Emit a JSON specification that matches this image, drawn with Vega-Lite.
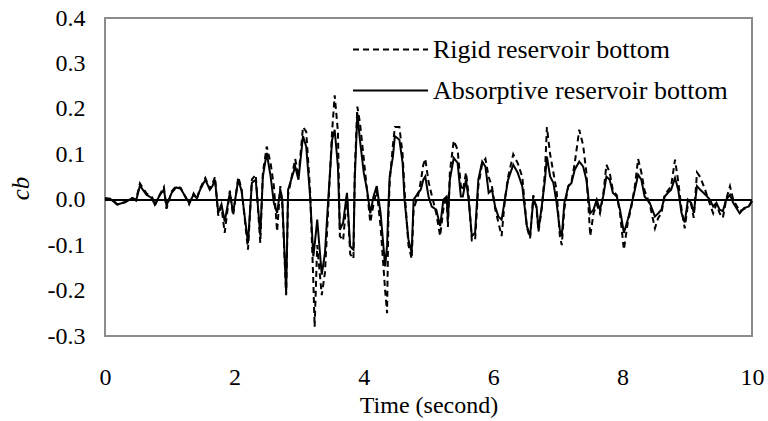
{
  "$schema": "https://vega.github.io/schema/vega-lite/v6.json",
  "width": 647,
  "height": 318,
  "autosize": {"type": "none"},
  "padding": {"left": 105, "top": 18, "right": 16, "bottom": 85},
  "background": "white",
  "config": {
    "view": {"stroke": "#8c8c8c", "strokeWidth": 2},
    "font": "Liberation Serif",
    "style": {"guide-label": {"font": "Liberation Serif", "fontSize": 24, "fill": "black"}, "guide-title": {"font": "Liberation Serif", "fontSize": 24, "fill": "black"}},
    "axis": {"labelFont": "Liberation Serif", "labelFontSize": 24, "labelColor": "black", "titleFont": "Liberation Serif", "titleFontSize": 24, "titleColor": "black", "titleFontWeight": "normal", "grid": false, "domain": false, "ticks": false, "labelFlush": false}
  },
  "data": {"values": [
    {"t":0.00,"a":0.003,"r":0.003},{"t":0.10,"a":0.000,"r":0.002},{"t":0.19,"a":-0.011,"r":-0.010},{"t":0.31,"a":-0.005,"r":-0.006},
    {"t":0.42,"a":0.003,"r":0.004},{"t":0.48,"a":-0.002,"r":0.000},{"t":0.54,"a":0.031,"r":0.036},{"t":0.64,"a":0.011,"r":0.014},
    {"t":0.73,"a":0.003,"r":0.005},{"t":0.77,"a":-0.011,"r":-0.013},{"t":0.85,"a":0.011,"r":0.012},{"t":0.91,"a":0.022,"r":0.028},
    {"t":0.95,"a":-0.013,"r":-0.020},{"t":1.03,"a":0.015,"r":0.018},{"t":1.10,"a":0.027,"r":0.030},{"t":1.17,"a":0.024,"r":0.026},
    {"t":1.30,"a":-0.007,"r":-0.010},{"t":1.37,"a":0.011,"r":0.014},{"t":1.42,"a":0.003,"r":0.002},{"t":1.47,"a":0.022,"r":0.025},
    {"t":1.55,"a":0.044,"r":0.048},{"t":1.62,"a":0.022,"r":0.024},{"t":1.66,"a":0.030,"r":0.035},{"t":1.70,"a":0.044,"r":0.050},
    {"t":1.75,"a":-0.029,"r":-0.035},{"t":1.80,"a":-0.010,"r":-0.015},{"t":1.85,"a":-0.048,"r":-0.073},{"t":1.93,"a":0.015,"r":0.020},
    {"t":1.98,"a":-0.029,"r":-0.035},{"t":2.06,"a":0.044,"r":0.050},{"t":2.11,"a":0.020,"r":0.025},{"t":2.21,"a":-0.095,"r":-0.110},
    {"t":2.27,"a":0.037,"r":0.045},{"t":2.33,"a":0.044,"r":0.055},{"t":2.40,"a":-0.077,"r":-0.095},{"t":2.44,"a":0.051,"r":0.060},
    {"t":2.50,"a":0.103,"r":0.117},{"t":2.56,"a":0.051,"r":0.080},{"t":2.61,"a":-0.007,"r":0.030},{"t":2.66,"a":-0.029,"r":-0.070},
    {"t":2.71,"a":0.022,"r":0.030},{"t":2.74,"a":0.000,"r":-0.010},{"t":2.80,"a":-0.205,"r":-0.210},{"t":2.83,"a":0.022,"r":0.010},
    {"t":2.94,"a":0.073,"r":0.090},{"t":2.99,"a":0.044,"r":0.050},{"t":3.06,"a":0.140,"r":0.160},{"t":3.11,"a":0.117,"r":0.150},
    {"t":3.17,"a":0.007,"r":0.020},{"t":3.22,"a":-0.125,"r":-0.180},{"t":3.24,"a":-0.100,"r":-0.280},{"t":3.28,"a":-0.044,"r":-0.100},
    {"t":3.35,"a":-0.165,"r":-0.210},{"t":3.40,"a":-0.117,"r":-0.160},{"t":3.45,"a":0.000,"r":-0.020},{"t":3.51,"a":0.132,"r":0.150},
    {"t":3.55,"a":0.154,"r":0.230},{"t":3.60,"a":0.073,"r":0.150},{"t":3.63,"a":-0.066,"r":-0.080},{"t":3.68,"a":-0.051,"r":-0.090},
    {"t":3.74,"a":0.015,"r":0.010},{"t":3.79,"a":-0.103,"r":-0.120},{"t":3.84,"a":-0.110,"r":-0.130},{"t":3.86,"a":0.044,"r":0.060},
    {"t":3.90,"a":0.190,"r":0.205},{"t":3.94,"a":0.132,"r":0.170},{"t":4.00,"a":0.059,"r":0.090},{"t":4.05,"a":0.022,"r":0.020},
    {"t":4.10,"a":-0.030,"r":-0.050},{"t":4.15,"a":0.007,"r":-0.010},{"t":4.20,"a":0.030,"r":0.020},{"t":4.26,"a":-0.030,"r":-0.060},
    {"t":4.33,"a":-0.147,"r":-0.200},{"t":4.36,"a":-0.100,"r":-0.250},{"t":4.38,"a":-0.015,"r":-0.040},{"t":4.40,"a":0.051,"r":0.040},
    {"t":4.45,"a":0.095,"r":0.120},{"t":4.48,"a":0.140,"r":0.160},{"t":4.55,"a":0.132,"r":0.160},{"t":4.60,"a":0.081,"r":0.100},
    {"t":4.63,"a":0.000,"r":0.020},{"t":4.69,"a":-0.088,"r":-0.100},{"t":4.74,"a":-0.117,"r":-0.130},{"t":4.77,"a":0.000,"r":-0.020},
    {"t":4.84,"a":0.015,"r":0.010},{"t":4.88,"a":0.022,"r":0.040},{"t":4.92,"a":0.044,"r":0.077},{"t":4.95,"a":0.051,"r":0.090},
    {"t":5.00,"a":0.007,"r":0.040},{"t":5.05,"a":-0.015,"r":0.010},{"t":5.12,"a":-0.022,"r":-0.030},{"t":5.18,"a":-0.058,"r":-0.080},
    {"t":5.23,"a":0.000,"r":-0.020},{"t":5.28,"a":0.007,"r":0.010},{"t":5.30,"a":-0.044,"r":-0.060},{"t":5.33,"a":0.044,"r":0.060},
    {"t":5.39,"a":0.092,"r":0.130},{"t":5.45,"a":0.081,"r":0.110},{"t":5.50,"a":0.007,"r":0.030},{"t":5.53,"a":0.007,"r":0.020},
    {"t":5.58,"a":0.044,"r":0.060},{"t":5.62,"a":0.000,"r":0.010},{"t":5.67,"a":-0.080,"r":-0.090},{"t":5.72,"a":-0.073,"r":-0.090},
    {"t":5.77,"a":0.044,"r":0.030},{"t":5.83,"a":0.084,"r":0.080},{"t":5.88,"a":0.073,"r":0.090},{"t":5.93,"a":0.015,"r":0.050},
    {"t":5.98,"a":0.022,"r":0.030},{"t":6.03,"a":-0.015,"r":-0.020},{"t":6.08,"a":-0.037,"r":-0.050},{"t":6.13,"a":-0.044,"r":-0.080},
    {"t":6.18,"a":0.000,"r":0.000},{"t":6.23,"a":0.044,"r":0.050},{"t":6.31,"a":0.077,"r":0.100},{"t":6.38,"a":0.059,"r":0.080},
    {"t":6.45,"a":0.029,"r":0.050},{"t":6.52,"a":-0.058,"r":-0.060},{"t":6.57,"a":-0.080,"r":-0.085},{"t":6.62,"a":0.000,"r":0.010},
    {"t":6.67,"a":-0.015,"r":-0.020},{"t":6.70,"a":-0.066,"r":-0.070},{"t":6.75,"a":-0.015,"r":-0.020},{"t":6.80,"a":0.044,"r":0.060},
    {"t":6.83,"a":0.095,"r":0.160},{"t":6.88,"a":0.051,"r":0.100},{"t":6.93,"a":0.037,"r":0.060},{"t":6.98,"a":-0.007,"r":0.020},
    {"t":7.03,"a":-0.066,"r":-0.080},{"t":7.06,"a":-0.080,"r":-0.100},{"t":7.10,"a":-0.007,"r":-0.020},{"t":7.16,"a":0.029,"r":0.030},
    {"t":7.21,"a":0.037,"r":0.040},{"t":7.26,"a":0.066,"r":0.080},{"t":7.33,"a":0.084,"r":0.154},{"t":7.39,"a":0.073,"r":0.120},
    {"t":7.44,"a":0.044,"r":0.060},{"t":7.50,"a":-0.030,"r":-0.080},{"t":7.55,"a":-0.022,"r":-0.030},{"t":7.60,"a":0.000,"r":-0.010},
    {"t":7.65,"a":-0.022,"r":-0.030},{"t":7.70,"a":0.007,"r":0.010},{"t":7.75,"a":0.051,"r":0.077},{"t":7.80,"a":0.044,"r":0.060},
    {"t":7.85,"a":0.015,"r":0.020},{"t":7.91,"a":0.007,"r":0.010},{"t":7.96,"a":-0.022,"r":-0.030},{"t":8.02,"a":-0.073,"r":-0.110},
    {"t":8.08,"a":-0.044,"r":-0.050},{"t":8.13,"a":-0.015,"r":-0.020},{"t":8.19,"a":0.022,"r":0.030},{"t":8.24,"a":0.055,"r":0.090},
    {"t":8.29,"a":0.044,"r":0.060},{"t":8.34,"a":0.007,"r":0.020},{"t":8.42,"a":-0.007,"r":-0.010},{"t":8.50,"a":-0.037,"r":-0.063},
    {"t":8.55,"a":-0.030,"r":-0.040},{"t":8.60,"a":-0.022,"r":-0.030},{"t":8.65,"a":0.007,"r":0.010},{"t":8.70,"a":0.015,"r":0.020},
    {"t":8.75,"a":0.022,"r":0.030},{"t":8.81,"a":0.048,"r":0.088},{"t":8.86,"a":0.022,"r":0.040},{"t":8.91,"a":-0.029,"r":-0.020},
    {"t":8.96,"a":-0.050,"r":-0.063},{"t":9.01,"a":0.000,"r":-0.010},{"t":9.06,"a":-0.007,"r":-0.010},{"t":9.10,"a":-0.029,"r":-0.040},
    {"t":9.15,"a":0.030,"r":0.060},{"t":9.20,"a":0.022,"r":0.050},{"t":9.28,"a":0.011,"r":0.020},{"t":9.35,"a":0.000,"r":-0.010},
    {"t":9.40,"a":-0.015,"r":-0.030},{"t":9.45,"a":-0.007,"r":-0.010},{"t":9.50,"a":-0.022,"r":-0.030},{"t":9.55,"a":-0.025,"r":-0.040},
    {"t":9.60,"a":0.000,"r":0.000},{"t":9.66,"a":0.011,"r":0.030},{"t":9.71,"a":-0.007,"r":0.000},{"t":9.81,"a":-0.030,"r":-0.025},
    {"t":9.88,"a":-0.018,"r":-0.020},{"t":9.95,"a":-0.015,"r":-0.015},{"t":10.00,"a":-0.003,"r":-0.002}
  ]},
  "layer": [
    {
      "mark": {"type": "rule", "color": "black", "strokeWidth": 1},
      "encoding": {"y": {"datum": 0, "type": "quantitative", "scale": {"domain": [-0.3, 0.4]}}}
    },
    {
      "transform": [{"fold": ["r", "a"], "as": ["s", "v"]}],
      "mark": {"type": "line", "color": "black", "strokeWidth": 2},
      "encoding": {
        "x": {"field": "t", "type": "quantitative", "scale": {"domain": [0, 10], "nice": false},
              "axis": {"values": [0, 2, 4, 6, 8, 10], "title": "Time (second)", "labelPadding": 29, "titlePadding": 4,
                       "labelFont": "Liberation Serif", "labelFontSize": 24, "labelFlush": false}},
        "y": {"field": "v", "type": "quantitative", "scale": {"domain": [-0.3, 0.4], "nice": false},
              "axis": {"values": [-0.3, -0.2, -0.1, 0, 0.1, 0.2, 0.3, 0.4], "labelExpr": "replace(format(datum.value, '.1f'), '\u2212', '-')", "labelPadding": 20,
                       "labelFont": "Liberation Serif", "labelFontSize": 24, "labelFlush": false,
                       "title": "cb", "titleFontStyle": "italic", "titleFontSize": 25, "titleX": -72, "titleY": 170}},
        "strokeDash": {"field": "s", "type": "nominal",
          "scale": {"domain": ["r", "a"], "range": [[6, 4], [1, 0]]},
          "legend": {"title": null, "orient": "none", "legendX": 272, "legendY": 18,
            "labelExpr": "datum.label == 'r' ? 'Rigid reservoir bottom' : 'Absorptive reservoir bottom'",
            "labelFont": "Liberation Serif", "labelFontSize": 26, "labelColor": "black", "labelLimit": 500,
            "symbolType": "M-3,0L3,0", "symbolSize": 625, "symbolStrokeWidth": 2, "symbolStrokeColor": "black",
            "labelOffset": 29, "rowPadding": 14}},
        "order": {"field": "t", "type": "quantitative"}
      }
    }
  ]
}
